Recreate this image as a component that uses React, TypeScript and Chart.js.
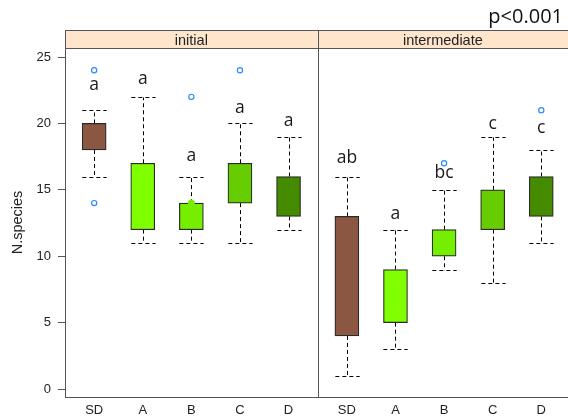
import React, { useEffect, useRef } from 'react';
import { Chart, registerables } from 'chart.js';
Chart.register(...registerables);

const panels = ['initial', 'intermediate'];
const groups = ['SD', 'A', 'B', 'C', 'D'];
const fills = ['#8B5742', '#7FFF00', '#76EE00', '#66CD00', '#458B00'];
// x positions of the boxes on the shared linear scale (two panels side by side)
const xPos = [1, 2, 3, 4, 5, 6.2, 7.2, 8.2, 9.2, 10.2];
const panelEdges = [0.4, 5.6, 10.8];
const whiskerLo = [16, 11, 11, 11, 12, 1, 3, 9, 8, 11];
const q1 = [18, 12, 12, 14, 13, 4, 5, 10, 12, 13];
const median = [19, 14, 14, 15, 15, 8, 7, 11, 13, 14];
const q3 = [20, 17, 14, 17, 16, 13, 9, 12, 15, 16];
const whiskerHi = [21, 22, 16, 20, 19, 16, 12, 15, 19, 18];
const outlierX = [1, 1, 3, 4, 8.2, 10.2];
const outlierY = [24, 14, 22, 24, 17, 21];
const letters = ['a', 'a', 'a', 'a', 'a', 'ab', 'a', 'bc', 'c', 'c'];
const letterY = [22.5, 23, 17.2, 20.8, 19.8, 17, 12.8, 15.9, 19.6, 19.3];
const yTicks = [0, 5, 10, 15, 20, 25];
const pText = 'p<0.001';

const AXIS_FONT = '"Liberation Sans", Arial, sans-serif';
const LETTER_FONT = '"Open Sans", "Noto Sans", sans-serif';

const extras = {
  id: 'extras',
  beforeDatasetsDraw(chart: any) {
    const { ctx, scales } = chart;
    const x = scales.x, y = scales.y;
    ctx.save();
    ctx.strokeStyle = '#000';
    ctx.lineWidth = 1;
    ctx.setLineDash([4, 3]);
    xPos.forEach((v, i) => {
      const cx = Math.round(x.getPixelForValue(v)) + 0.5;
      const hw = (x.getPixelForValue(v + 0.25) - x.getPixelForValue(v - 0.25)) / 2;
      const segs = [[q3[i], whiskerHi[i]], [q1[i], whiskerLo[i]]];
      segs.forEach(([from, to]) => {
        const y0 = y.getPixelForValue(from);
        const y1 = Math.round(y.getPixelForValue(to)) + 0.5;
        ctx.beginPath();
        ctx.moveTo(cx, y0);
        ctx.lineTo(cx, y1);
        ctx.stroke();
        ctx.beginPath();
        ctx.moveTo(cx - hw, y1);
        ctx.lineTo(cx + hw, y1);
        ctx.stroke();
      });
    });
    ctx.restore();
  },
  afterDatasetsDraw(chart: any) {
    const { ctx, scales } = chart;
    const x = scales.x, y = scales.y;
    ctx.save();
    ctx.fillStyle = '#1a1a1a';
    ctx.font = `17.5px ${LETTER_FONT}`;
    ctx.textAlign = 'center';
    ctx.textBaseline = 'alphabetic';
    xPos.forEach((v, i) => {
      ctx.fillText(letters[i], x.getPixelForValue(v), y.getPixelForValue(letterY[i]));
    });
    ctx.restore();
  },
  afterDraw(chart: any) {
    const { ctx, scales, chartArea } = chart;
    const x = scales.x;
    const stripTop = 30;
    ctx.save();
    for (let p = 0; p < panels.length; p++) {
      const l = x.getPixelForValue(panelEdges[p]);
      const r = Math.min(x.getPixelForValue(panelEdges[p + 1]), chart.width + 2);
      ctx.fillStyle = '#FFE5CC';
      ctx.fillRect(l, stripTop, r - l, chartArea.top - stripTop);
      ctx.fillStyle = '#222';
      ctx.font = `14.5px ${AXIS_FONT}`;
      ctx.textAlign = 'center';
      ctx.textBaseline = 'alphabetic';
      ctx.fillText(panels[p], (l + Math.min(r, chart.width)) / 2, 45);
    }
    ctx.strokeStyle = '#555';
    ctx.lineWidth = 1;
    ctx.beginPath();
    ctx.moveTo(chartArea.left, stripTop + 0.5);
    ctx.lineTo(chart.width, stripTop + 0.5);
    ctx.moveTo(chartArea.left, chartArea.top + 0.5);
    ctx.lineTo(chart.width, chartArea.top + 0.5);
    ctx.moveTo(chartArea.left + 0.5, stripTop);
    ctx.lineTo(chartArea.left + 0.5, chartArea.bottom);
    const dx = Math.round(x.getPixelForValue(panelEdges[1])) + 0.5;
    ctx.moveTo(dx, stripTop);
    ctx.lineTo(dx, chartArea.bottom);
    ctx.stroke();
    ctx.fillStyle = '#111';
    ctx.font = `20px ${LETTER_FONT}`;
    ctx.textAlign = 'right';
    ctx.textBaseline = 'alphabetic';
    ctx.fillText(pText, 563, 23);
    ctx.restore();
  },
};

export default function App() {
  const ref = useRef<HTMLCanvasElement>(null);
  useEffect(() => {
    if (!ref.current) return;
    const fillAll = xPos.map((_, i) => fills[i % groups.length]);
    const chart = new Chart(ref.current, {
      type: 'scatter',
      data: {
        datasets: [
          {
            type: 'scatter',
            data: outlierX.map((v, i) => ({ x: v, y: outlierY[i] })),
            pointStyle: 'circle',
            pointRadius: 2.6,
            pointBorderWidth: 1.2,
            pointBorderColor: '#2b8cff',
            pointBackgroundColor: '#ffffff',
          } as any,
          {
            type: 'scatter',
            data: xPos.map((v, i) => ({ x: v, y: median[i] })),
            pointStyle: 'circle',
            pointRadius: 3.5,
            pointBorderWidth: 0,
            pointBackgroundColor: fillAll,
          } as any,
          {
            type: 'bar',
            data: xPos.map((v, i) => ({ x: v, y: [q1[i], q3[i]] })),
            backgroundColor: fillAll,
            borderColor: '#2a2a2a',
            borderWidth: 1.2,
            borderSkipped: false,
            barThickness: 24,
            grouped: false,
          } as any,
        ],
      },
      options: {
        animation: false,
        responsive: false,
        devicePixelRatio: 1,
        layout: { autoPadding: false, padding: { top: 48, left: 0, right: 0, bottom: 0 } },
        plugins: { legend: { display: false }, tooltip: { enabled: false } },
        scales: {
          x: {
            type: 'linear',
            min: 0.4,
            max: 10.75,
            offset: false,
            afterFit: (s: any) => { s.height = 22; s.paddingLeft = 0; s.paddingRight = 0; },
            afterBuildTicks: (s: any) => { s.ticks = xPos.map((v) => ({ value: v })); },
            grid: { display: false, drawTicks: false },
            border: { display: true, color: '#555', width: 1 },
            ticks: {
              autoSkip: false,
              maxRotation: 0,
              padding: 6,
              color: '#222',
              font: { family: AXIS_FONT, size: 13 },
              callback: (_v: any, i: number) => groups[i % groups.length],
            },
          },
          y: {
            type: 'linear',
            min: -0.6,
            max: 25.68,
            afterFit: (s: any) => { s.width = 65; s.paddingTop = 0; s.paddingBottom = 0; },
            afterBuildTicks: (s: any) => { s.ticks = yTicks.map((v) => ({ value: v })); },
            grid: { drawOnChartArea: false, drawTicks: true, tickLength: 7, color: '#555' },
            border: { display: true, color: '#555', width: 1 },
            ticks: {
              padding: 7,
              color: '#222',
              font: { family: AXIS_FONT, size: 13 },
            },
            title: {
              display: true,
              text: 'N.species',
              color: '#222',
              font: { family: AXIS_FONT, size: 14.5 },
              padding: { top: 9, bottom: 0 },
            },
          },
        },
      },
      plugins: [extras],
    } as any);
    return () => chart.destroy();
  }, []);
  return (
    <div style={{ position: 'absolute', left: 0, top: 0, width: 568, height: 419, background: '#fff' }}>
      <canvas ref={ref} width={568} height={419} />
    </div>
  );
}
